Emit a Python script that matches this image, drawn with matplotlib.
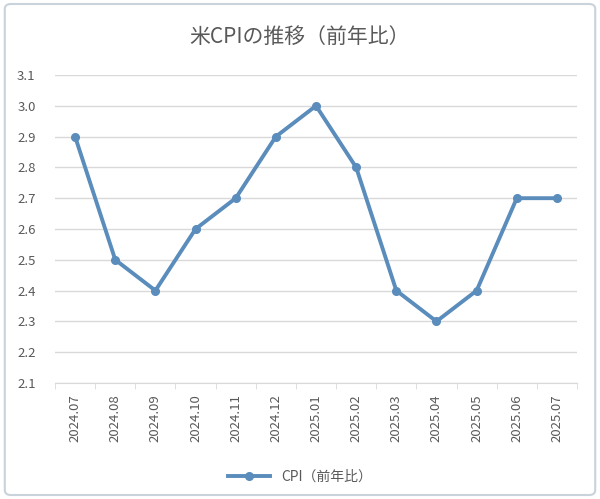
import matplotlib
matplotlib.use("Agg")
import matplotlib.pyplot as plt
from matplotlib.patches import FancyBboxPatch

plt.rcParams['font.family'] = ['Noto Sans CJK JP', 'DejaVu Sans']

# データ
months = ['2024.07', '2024.08', '2024.09', '2024.10', '2024.11', '2024.12',
          '2025.01', '2025.02', '2025.03', '2025.04', '2025.05', '2025.06', '2025.07']
cpi = [2.9, 2.5, 2.4, 2.6, 2.7, 2.9, 3.0, 2.8, 2.4, 2.3, 2.4, 2.7, 2.7]
yticks = [2.1, 2.2, 2.3, 2.4, 2.5, 2.6, 2.7, 2.8, 2.9, 3.0, 3.1]

line_color = '#5a8cbc'
text_color = '#595959'
grid_color = '#d9d9d9'

fig = plt.figure(figsize=(6, 4.99), dpi=100)
ax = fig.add_axes([0.0917, 0.2325, 0.87, 0.6172])

x = list(range(len(months)))
ax.plot(x, cpi, color=line_color, lw=2.8, marker='o', ms=5.5,
        markerfacecolor=line_color, markeredgecolor=line_color, label='CPI（前年比）')

ax.set_xlim(-0.5, len(months) - 0.5)
ax.set_ylim(2.1, 3.1)
ax.set_yticks(yticks)
ax.set_yticklabels([f'{v:.1f}' for v in yticks], fontsize=9.5, color=text_color)
ax.yaxis.grid(True, color=grid_color, lw=1)
ax.set_axisbelow(True)
ax.tick_params(axis='y', length=0, pad=14)

ax.set_xticks(x)
ax.set_xticklabels(months, rotation=90, fontsize=9.5, color=text_color)
ax.tick_params(axis='x', length=0, pad=8)
ax.set_xticks([i - 0.5 for i in range(len(months) + 1)], minor=True)
ax.tick_params(axis='x', which='minor', length=4, color=grid_color)

for s in ['top', 'right', 'left']:
    ax.spines[s].set_visible(False)
ax.spines['bottom'].set_color(grid_color)

fig.text(0.5, 0.925, '米CPIの推移（前年比）', ha='center', va='center',
         fontsize=15, color=text_color)

leg = ax.legend(loc='center', bbox_to_anchor=(0.5, 0.045), bbox_transform=fig.transFigure,
                frameon=False, fontsize=10, handlelength=3)
for t in leg.get_texts():
    t.set_color(text_color)

# 外枠
border = FancyBboxPatch((0.008, 0.008), 0.984, 0.984, boxstyle='round,pad=0,rounding_size=0.01',
                        transform=fig.transFigure, fill=False, ec='#c8d3dc', lw=1.5)
fig.patches.append(border)

fig.savefig('out.png', dpi=100, facecolor='white')
